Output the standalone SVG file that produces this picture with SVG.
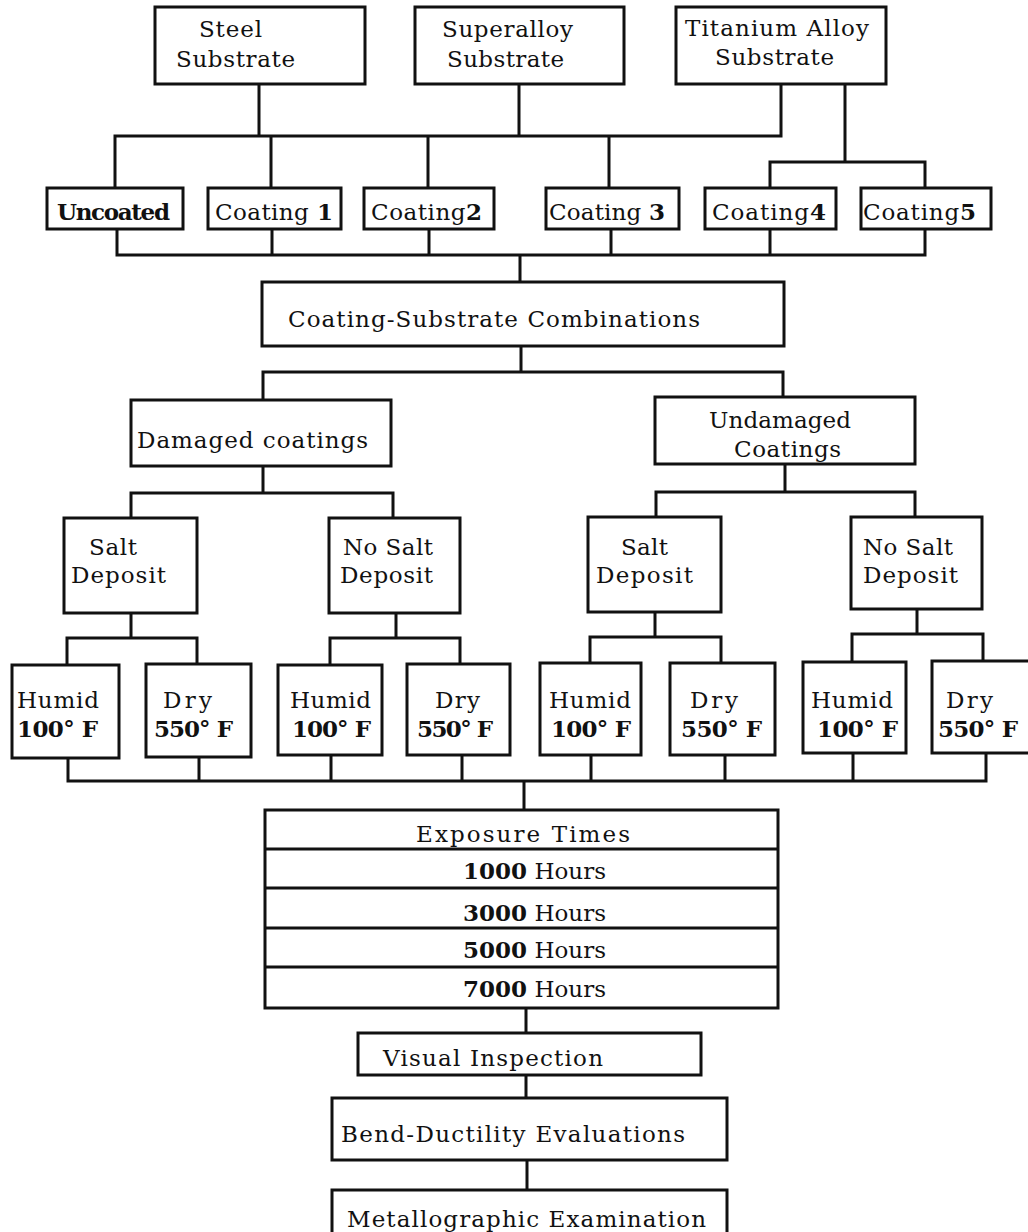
<svg xmlns="http://www.w3.org/2000/svg" width="1028" height="1232" viewBox="0 0 1028 1232">
<style>
rect{fill:#fff;stroke:#111;stroke-width:3}
line.d{stroke:#111;stroke-width:3}
#connectors path{fill:none;stroke:#111;stroke-width:3;stroke-linejoin:miter;stroke-linecap:square}
text{font-family:"DejaVu Serif","Liberation Serif",serif;font-size:23px;fill:#111}
.b{font-weight:bold}
</style>
<rect x="0" y="0" width="1028" height="1232" style="fill:#fff;stroke:none"/>
<g id="connectors">
<path d="M259 84V136M115 188V136H781V84M519 84V136M271 136V188M428 136V188M609 136V188"/>
<path d="M845 84V162M770 188V162H925V188"/>
<path d="M117 229V255H925V229M272 229V255M429 229V255M611 229V255M770 229V255M520 255V282"/>
<path d="M521 346V372M263 400V372H783V397"/>
<path d="M263 466V493M131 518V493H393V518"/>
<path d="M785 464V492M656 517V492H915V517"/>
<path d="M131 613V638M67 665V638H197V664"/>
<path d="M396 613V638M330 665V638H460V664"/>
<path d="M655 612V637M590 663V637H721V663"/>
<path d="M917 609V634M852 662V634H983V661"/>
<path d="M68 758V781H986V753M199 757V781M331 755V781M462 755V781M591 755V781M725 755V781M853 753V781M524 781V810"/>
<path d="M526 1008V1033M526 1075V1098M527 1160V1190"/>
</g>
<g id="steel"><rect x="155" y="7" width="210" height="77"/><text x="199" y="37" textLength="63">Steel</text><text x="176" y="67" textLength="119">Substrate</text></g>
<g id="superalloy"><rect x="415" y="7" width="209" height="77"/><text x="442" y="37" textLength="131">Superalloy</text><text x="447" y="67" textLength="117">Substrate</text></g>
<g id="titanium"><rect x="676" y="7" width="210" height="77"/><text x="685" y="36" textLength="184">Titanium Alloy</text><text x="715" y="65" textLength="119">Substrate</text></g>
<g id="uncoated"><rect x="47" y="188" width="136" height="41"/><text x="57" y="220" textLength="113" class="b">Uncoated</text></g>
<g id="coating1"><rect x="208" y="188" width="133" height="41"/><text x="215" y="220" textLength="118">Coating <tspan class="b">1</tspan></text></g>
<g id="coating2"><rect x="364" y="188" width="130" height="41"/><text x="371" y="220" textLength="111">Coating<tspan class="b">2</tspan></text></g>
<g id="coating3"><rect x="546" y="188" width="133" height="41"/><text x="549" y="220" textLength="116">Coating <tspan class="b">3</tspan></text></g>
<g id="coating4"><rect x="705" y="188" width="131" height="41"/><text x="712" y="220" textLength="114">Coating<tspan class="b">4</tspan></text></g>
<g id="coating5"><rect x="861" y="188" width="130" height="41"/><text x="863" y="220" textLength="113">Coating<tspan class="b">5</tspan></text></g>
<g id="combinations"><rect x="262" y="282" width="522" height="64"/><text x="288" y="327" textLength="412">Coating-Substrate Combinations</text></g>
<g id="damaged"><rect x="131" y="400" width="260" height="66"/><text x="137" y="448" textLength="231">Damaged coatings</text></g>
<g id="undamaged"><rect x="655" y="397" width="260" height="67"/><text x="709" y="428" textLength="142">Undamaged</text><text x="734" y="457" textLength="107">Coatings</text></g>
<g id="salt1"><rect x="64" y="518" width="133" height="95"/><text x="89" y="555" textLength="48">Salt</text><text x="71" y="583" textLength="95">Deposit</text></g>
<g id="nosalt1"><rect x="329" y="518" width="131" height="95"/><text x="343" y="555" textLength="90">No Salt</text><text x="340" y="583" textLength="93">Deposit</text></g>
<g id="salt2"><rect x="588" y="517" width="133" height="95"/><text x="621" y="555" textLength="47">Salt</text><text x="596" y="583" textLength="97">Deposit</text></g>
<g id="nosalt2"><rect x="851" y="517" width="131" height="92"/><text x="863" y="555" textLength="90">No Salt</text><text x="863" y="583" textLength="95">Deposit</text></g>
<g id="humid1"><rect x="12" y="665" width="107" height="93"/><text x="17" y="708" textLength="82">Humid</text><text x="17" y="737" textLength="81" class="b">100° F</text></g>
<g id="dry1"><rect x="146" y="664" width="105" height="93"/><text x="163" y="708" textLength="49">Dry</text><text x="154" y="737" textLength="79" class="b">550° F</text></g>
<g id="humid2"><rect x="278" y="665" width="104" height="90"/><text x="290" y="708" textLength="81">Humid</text><text x="292" y="737" textLength="79" class="b">100° F</text></g>
<g id="dry2"><rect x="407" y="664" width="103" height="91"/><text x="435" y="708" textLength="45">Dry</text><text x="417" y="737" textLength="76" class="b">550° F</text></g>
<g id="humid3"><rect x="540" y="663" width="101" height="92"/><text x="549" y="708" textLength="82">Humid</text><text x="551" y="737" textLength="80" class="b">100° F</text></g>
<g id="dry3"><rect x="670" y="663" width="105" height="92"/><text x="690" y="708" textLength="48">Dry</text><text x="681" y="737" textLength="81" class="b">550° F</text></g>
<g id="humid4"><rect x="803" y="662" width="103" height="91"/><text x="811" y="708" textLength="82">Humid</text><text x="817" y="737" textLength="81" class="b">100° F</text></g>
<g id="dry4"><rect x="932" y="661" width="110" height="92"/><text x="946" y="708" textLength="47">Dry</text><text x="938" y="737" textLength="80" class="b">550° F</text></g>
<g id="exposure"><rect x="265" y="810" width="513" height="198"/>
<line class="d" x1="265" y1="849" x2="778" y2="849"/><line class="d" x1="265" y1="888" x2="778" y2="888"/><line class="d" x1="265" y1="928" x2="778" y2="928"/><line class="d" x1="265" y1="967" x2="778" y2="967"/>
<text x="416" y="842" textLength="214">Exposure Times</text>
<text x="463" y="879" textLength="143"><tspan class="b">1000</tspan> Hours</text>
<text x="463" y="921" textLength="143"><tspan class="b">3000</tspan> Hours</text>
<text x="463" y="958" textLength="143"><tspan class="b">5000</tspan> Hours</text>
<text x="463" y="997" textLength="143"><tspan class="b">7000</tspan> Hours</text></g>
<g id="visual"><rect x="358" y="1033" width="343" height="42"/><text x="383" y="1066" textLength="220">Visual Inspection</text></g>
<g id="bend"><rect x="332" y="1098" width="395" height="62"/><text x="341" y="1142" textLength="344">Bend-Ductility Evaluations</text></g>
<g id="metallo"><rect x="332" y="1190" width="395" height="50"/><text x="347" y="1227" textLength="359">Metallographic Examination</text></g>
</svg>
